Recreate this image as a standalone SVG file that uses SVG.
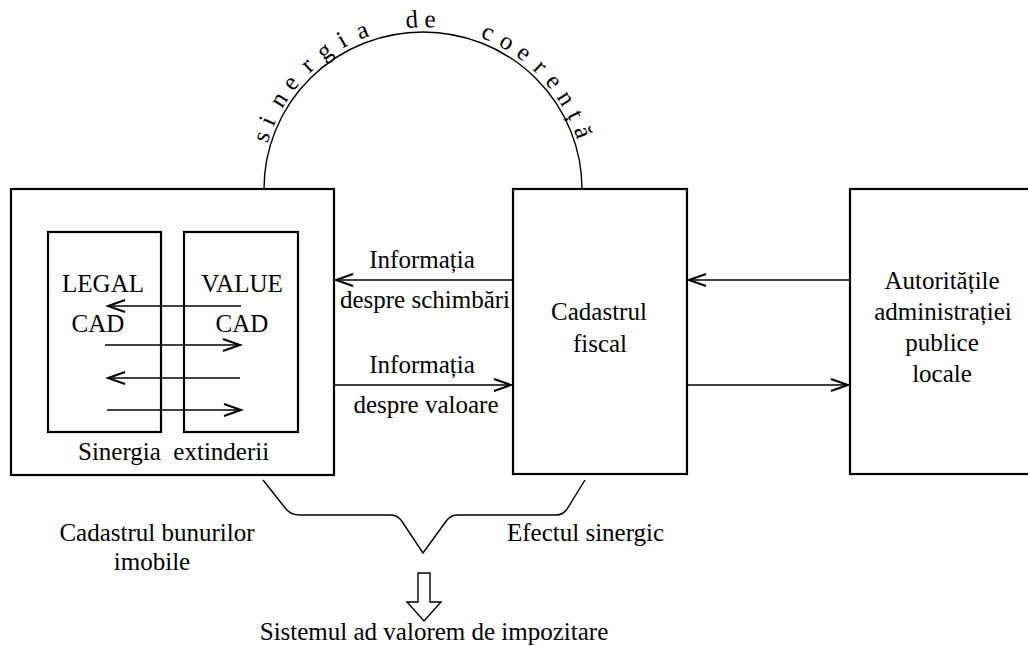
<svg xmlns="http://www.w3.org/2000/svg" width="1028" height="646" viewBox="0 0 1028 646">
<defs>
<style>
.box{fill:none;stroke:#000;stroke-width:2.2}
.ln{fill:none;stroke:#000;stroke-width:1.4}
.ar{fill:none;stroke:#000;stroke-width:1.4;marker-end:url(#ah)}
text{font-family:"Liberation Serif","Times New Roman",serif;font-size:25px;fill:#000}
.c{text-anchor:middle}
</style>
<marker id="ah" markerUnits="userSpaceOnUse" markerWidth="24" markerHeight="16" refX="20" refY="8" orient="auto" overflow="visible">
<path d="M3,2 L20,8 L3,14" fill="none" stroke="#000" stroke-width="2"/>
</marker>
</defs>
<rect width="1028" height="646" fill="#fff"/>

<g id="connectors">
<path id="arc" class="ln" d="M264,189 A159,157 0 0 1 582,189"/>
<line class="ar" x1="513" y1="280" x2="336" y2="280"/>
<line class="ar" x1="334" y1="385" x2="511" y2="385"/>
<line class="ar" x1="850" y1="280" x2="689" y2="280"/>
<line class="ar" x1="687" y1="385" x2="848" y2="385"/>
<line class="ar" x1="241" y1="306" x2="108" y2="306"/>
<line class="ar" x1="105" y1="345" x2="240" y2="345"/>
<line class="ar" x1="240" y1="378" x2="108" y2="378"/>
<line class="ar" x1="107" y1="410" x2="241" y2="410"/>
<path id="bracket" class="ln" d="M263,480 L286,509 Q291,515 300,515 L390,515 Q397,515 401,520 L423,553 L447,520 Q451,515 458,515 L556,515 Q563,515 567,509 L585,480"/>
<path id="result-arrow" class="ln" d="M418,573 L430,573 L430,602 L441,602 L424,621 L407,602 L418,602 Z"/>
</g>

<g id="arc-label">
<text x="267.5 273.2 282.1 293.1 309.5 323.7 342.4 359.8 387.9 406.1 424.3 456.7 479.9 497.8 514.9 532.1 544.4 556.3 567.1 573.7" y="143.5 127.3 109.0 92.1 73.4 61.0 48.4 39.8 30.8 27.9 27.0 30.5 37.3 45.3 55.6 69.3 81.8 97.0 114.9 129.5" rotate="-72 -66.4 -58.2 -51.3 -43 -35.6 -28.6 -21 -12.5 -3.8 2.4 12 22.5 29.7 36.5 43.8 50.5 57.6 64 70.4">sinergia de coerență</text>
</g>

<g id="node-cadastrul-bunurilor">
<rect class="box" x="11" y="189" width="323" height="286"/>
<g id="node-legal-cad">
<rect class="box" x="48" y="232" width="113" height="200"/>
<text class="c" x="103" y="292">LEGAL</text>
<text class="c" x="98" y="332">CAD</text>
</g>
<g id="node-value-cad">
<rect class="box" x="184" y="232" width="114" height="200"/>
<text class="c" x="242" y="292">VALUE</text>
<text class="c" x="242" y="332">CAD</text>
</g>
<text x="78" y="460" style="white-space:pre">Sinergia  extinderii</text>
</g>

<g id="node-cadastrul-fiscal">
<rect class="box" x="513" y="189" width="174" height="285"/>
<text class="c" x="599" y="320">Cadastrul</text>
<text class="c" x="600" y="352">fiscal</text>
</g>

<g id="node-autoritati">
<rect class="box" x="850" y="189" width="186" height="285"/>
<text class="c" x="942" y="289">Autoritățile</text>
<text class="c" x="943" y="320">administrației</text>
<text class="c" x="942" y="351">publice</text>
<text class="c" x="942" y="382">locale</text>
</g>

<g id="edge-labels">
<text class="c" x="422" y="268">Informația</text>
<text class="c" x="425" y="308">despre schimbări</text>
<text class="c" x="422" y="373">Informația</text>
<text class="c" x="426" y="413">despre valoare</text>
<text class="c" x="157" y="541">Cadastrul bunurilor</text>
<text class="c" x="152" y="570">imobile</text>
<text x="507" y="541">Efectul sinergic</text>
<text class="c" x="434" y="640">Sistemul ad valorem de impozitare</text>
</g>
</svg>
